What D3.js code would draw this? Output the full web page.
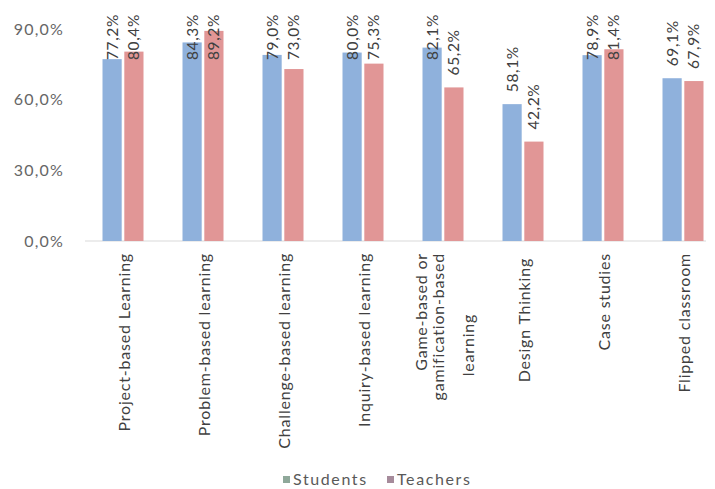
<!DOCTYPE html>
<html><head><meta charset="utf-8">
<script src="https://cdn.jsdelivr.net/npm/d3@7"></script>
<style>body{margin:0;background:#fff}svg{display:block}</style>
</head><body>
<script>
const categories = [
  ["Project-based Learning"],
  ["Problem-based learning"],
  ["Challenge-based learning"],
  ["Inquiry-based learning"],
  ["Game-based or", "gamification-based", "learning"],
  ["Design Thinking"],
  ["Case studies"],
  ["Flipped classroom"]
];
const students = [77.2, 84.3, 79.0, 80.0, 82.1, 58.1, 78.9, 69.1];
const teachers = [80.4, 89.2, 73.0, 75.3, 65.2, 42.2, 81.4, 67.9];
const seriesNames = ["Students", "Teachers"];
const yTicks = [0, 30, 60, 90];

const W = 715, H = 489;
const font = "Lato, 'Open Sans', sans-serif";
const barColors = ["#8fb1dc", "#e19696"];
const legendColors = ["#8fa89a", "#a68b9b"];

const svg = d3.select("body").append("svg").attr("width", W).attr("height", H);

const x = d3.scaleBand().domain(d3.range(categories.length)).range([83, 723]).paddingInner(0).paddingOuter(0);
const y = d3.scaleLinear().domain([0, 90]).range([241, 29]);
const x1 = d3.scaleBand().domain([0, 1]).range([0, 41]).paddingInner(0.12);

// y axis labels
svg.append("g").selectAll("text").data(yTicks).join("text")
  .attr("x", 64).attr("y", d => y(d)).attr("dy", "0.35em")
  .attr("text-anchor", "end").attr("font-family", font).attr("font-size", 16)
  .attr("letter-spacing", 1.2)
  .attr("fill", "#666666")
  .text(d => d3.format(".1f")(d).replace(".", ",") + "%");

// baseline
svg.append("line").attr("x1", 85).attr("x2", 706).attr("y1", y(0)).attr("y2", y(0))
  .attr("stroke", "#d9d9d9").attr("stroke-width", 1.2);

const data = categories.map((c, i) => ({i, vals: [students[i], teachers[i]]}));
const groups = svg.append("g").selectAll("g").data(data).join("g")
  .attr("transform", d => `translate(${x(d.i) + x.bandwidth() / 2 - 20.5},0)`);

groups.selectAll("rect").data(d => d.vals.map((v, s) => ({v, s}))).join("rect")
  .attr("x", d => x1(d.s)).attr("width", x1.bandwidth())
  .attr("y", d => y(d.v)).attr("height", d => y(0) - y(d.v))
  .attr("fill", d => barColors[d.s]);

groups.selectAll("text.val").data(d => d.vals.map((v, s) => ({v, s}))).join("text")
  .attr("class", "val")
  .attr("transform", d => {
    const cx = x1(d.s) + x1.bandwidth() / 2;
    const by = Math.max(y(d.v) - 12, 60);
    return `translate(${cx},${by}) rotate(-90)`;
  })
  .attr("dy", "0.35em").attr("text-anchor", "start")
  .attr("font-family", font).attr("font-size", 15.5).attr("letter-spacing", 0.6)
  .attr("fill", "#404040")
  .text(d => d3.format(".1f")(d.v).replace(".", ",") + "%");

// category labels
const lineOff = [-22, -5, 25];
const cat = svg.append("g");
categories.forEach((lines, i) => {
  const cx = x(i) + x.bandwidth() / 2;
  lines.forEach((ln, k) => {
    const multi = lines.length > 1;
    const lx = multi ? cx + lineOff[k] : cx + 1;
    const last = multi && k === lines.length - 1;
    const ty = last ? 345 : (ln === "Design Thinking" ? 258 : 253);
    cat.append("text")
      .attr("transform", `translate(${lx},${ty}) rotate(-90)`)
      .attr("dy", "0.35em")
      .attr("text-anchor", last ? "middle" : "end")
      .attr("font-family", font).attr("font-size", 16).attr("letter-spacing", 0.8)
      .attr("fill", "#404040")
      .text(ln);
  });
});

// legend
const leg = svg.append("g");
const legX = [283, 387];
seriesNames.forEach((n, s) => {
  leg.append("rect").attr("x", legX[s]).attr("y", 476).attr("width", 7).attr("height", 7)
    .attr("fill", legendColors[s]);
  leg.append("text").attr("x", legX[s] + 10).attr("y", 479).attr("dy", "0.35em")
    .attr("font-family", font).attr("font-size", 16).attr("letter-spacing", 1.6)
    .attr("fill", "#595959").text(n);
});
</script>
</body></html>
